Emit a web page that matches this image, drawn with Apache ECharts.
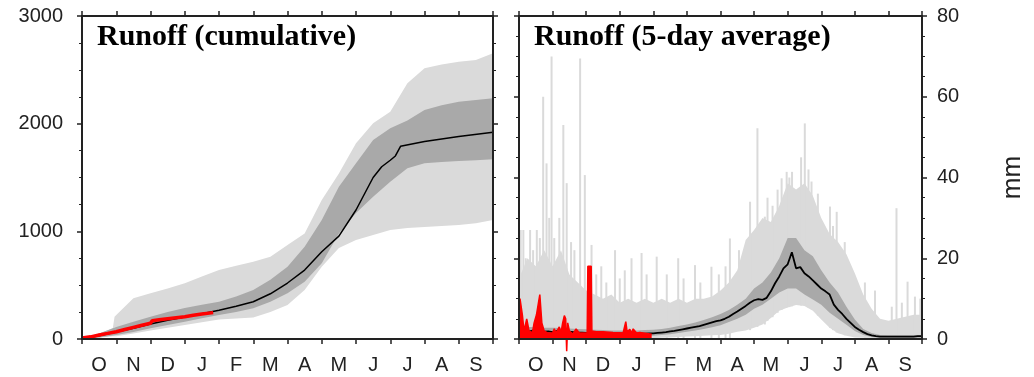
<!DOCTYPE html>
<html>
<head>
<meta charset="utf-8">
<script src="https://cdn.jsdelivr.net/npm/echarts@6/dist/echarts.min.js"></script>
<style>
    html, body { margin: 0; padding: 0; background: #fff; }
    #chart { width: 1034px; height: 377px; }
</style>
</head>
<body>
<div id="chart"></div>
<script>
// water year, Oct .. Sep; x is in months from 1 Oct
const months = ['O', 'N', 'D', 'J', 'F', 'M', 'A', 'M', 'J', 'J', 'A', 'S'];
const monthTicks = [0, 1, 2, 3, 4, 5, 6, 7, 8, 9, 10, 11, 12];
const monthLabelPos = [0.5, 1.5, 2.5, 3.5, 4.5, 5.5, 6.5, 7.5, 8.5, 9.5, 10.5, 11.5];

// ---- left panel: cumulative runoff
const cumX = [0, 0.5, 0.9, 0.95, 1, 1.5, 2, 2.5, 3, 3.5, 4, 4.5, 5, 5.5, 6, 6.5, 7, 7.5, 8, 8.5, 9, 9.5, 10, 10.5, 11, 11.5, 12];
const cumLightLow = [0, 12, 25, 25, 25, 50, 80, 105, 130, 155, 180, 190, 200, 250, 316, 455, 672, 845, 920, 966, 1012, 1030, 1040, 1050, 1059, 1075, 1105];
const cumLightHigh = [0, 50, 100, 207, 223, 378, 424, 470, 517, 580, 641, 680, 718, 764, 873, 981, 1291, 1538, 1817, 2003, 2111, 2375, 2514, 2550, 2576, 2591, 2653];
const cumDarkLow = [0, 15, 33, 35, 37, 65, 99, 130, 161, 192, 223, 250, 285, 345, 424, 532, 703, 981, 1170, 1322, 1461, 1585, 1632, 1645, 1653, 1660, 1669];
const cumDarkHigh = [0, 50, 100, 105, 111, 160, 207, 250, 287, 318, 346, 395, 455, 550, 672, 857, 1105, 1415, 1632, 1848, 1957, 2030, 2127, 2170, 2204, 2220, 2235];
const cumMedX = [0, 0.5, 1, 1.5, 2, 2.5, 3, 3.5, 4, 4.5, 5, 5.5, 6, 6.5, 7, 7.5, 8, 8.5, 8.75, 9, 9.15, 9.3, 10, 11, 12];
const cumMed = [0, 30, 65, 100, 140, 175, 205, 235, 268, 305, 346, 420, 520, 640, 811, 955, 1198, 1500, 1600, 1660, 1700, 1790, 1835, 1880, 1920];
const cumObsX = [0, 0.25, 0.5, 0.75, 1, 1.25, 1.5, 1.75, 2, 2.05, 2.25, 2.5, 2.75, 3, 3.25, 3.5, 3.83];
const cumObs = [10, 20, 37, 52, 68, 88, 108, 128, 146, 170, 178, 188, 198, 207, 220, 232, 245];

// ---- right panel: 5-day average runoff (mm)
// envelope and quartile band, every quarter month
const rLightLow = [0, 0, 0, 0, 0, 0, 0, 0, 0, 0, 0, 0, 0, 0, 0, 0, 0.2, 0.3, 0.4, 0.5, 0.6, 0.7, 0.8, 0.9, 1, 1.3, 1.8, 2.1, 2.8, 3.6, 5.2, 7, 7.8, 8.4, 8.2, 7, 4.8, 2.8, 1.4, 0.8, 0.4, 0.3, 0.2, 0.2, 0.2, 0.2, 0.2, 0.2, 0.2];
const rLightHigh = [15, 20, 18, 22, 18, 22, 16, 14, 12, 11, 10, 11, 9, 10, 9, 10, 9, 10, 9, 10, 9, 10, 10, 10.5, 12, 14, 17, 24.5, 27, 30, 29, 33, 38.6, 37, 38.6, 35.5, 30, 26, 24, 21, 16.3, 11, 7.5, 5, 4.5, 5, 5.5, 6, 6];
const rDarkLow = [0.8, 0.8, 0.8, 0.8, 0.8, 0.8, 0.8, 0.8, 0.7, 0.7, 0.7, 0.7, 0.7, 0.7, 0.7, 0.7, 0.8, 1.0, 1.2, 1.5, 1.8, 2.1, 2.5, 2.9, 3.4, 4.2, 5, 6, 7.5, 8.5, 10, 11.5, 12.5, 12.5, 11, 9.8, 8.5, 6.5, 5, 3.5, 2, 1, 0.5, 0.3, 0.3, 0.3, 0.3, 0.3, 0.3];
const rDarkHigh = [3, 3, 3, 2.8, 2.8, 2.7, 2.6, 2.5, 2.4, 2.3, 2.2, 2.1, 2.1, 2.1, 2.1, 2.2, 2.3, 2.5, 2.8, 3.2, 3.6, 4.1, 4.7, 5.4, 6.2, 7.2, 8.5, 10, 12.5, 14, 16.5, 20, 25, 25, 22, 20.5, 17, 14, 11.5, 8, 4.8, 2.5, 1.5, 1.0, 0.9, 0.9, 0.9, 0.9, 0.9];
// median, every eighth of a month
const rMed = [
    2.0, 2.2, 1.8, 2.0, 2.3, 1.9, 1.8, 1.9,
    1.7, 2.0, 1.9, 1.8, 1.8, 1.7, 1.6, 1.6,
    1.5, 1.5, 1.5, 1.4, 1.4, 1.4, 1.4, 1.4,
    1.4, 1.3, 1.3, 1.3, 1.3, 1.3, 1.3, 1.4,
    1.4, 1.5, 1.6, 1.7, 1.9, 2.0, 2.2, 2.4,
    2.6, 2.8, 3.0, 3.2, 3.5, 3.8, 4.1, 4.4,
    4.6, 5.0, 5.5, 6.2, 6.8, 7.5, 8.2, 9.0,
    9.6, 9.9, 9.7, 10.2, 11.8, 13.8, 15.5, 17.5,
    18.5, 21.5, 17.5, 17.8, 16.3, 15.5, 14.5, 13.5,
    12.5, 11.8, 11.0, 8.5, 7.2, 6.2, 5.0, 4.0,
    3.0, 2.3, 1.7, 1.2, 0.9, 0.7, 0.6, 0.6,
    0.6, 0.6, 0.6, 0.6, 0.6, 0.6, 0.6, 0.7,
    0.7
];
// single-day maxima that stick out of the envelope (base = envelope bottom)
const rSpikeX = [0.05, 0.13, 0.2, 0.33, 0.42, 0.53, 0.62, 0.72, 0.82, 0.9, 0.97, 1.05, 1.12, 1.2, 1.32, 1.42, 1.55, 1.65, 1.82, 1.96,
    2.16, 2.3, 2.45, 2.6, 2.86, 3.0, 3.15, 3.35, 3.65, 3.8, 4.1, 4.4, 4.74, 4.9, 5.24, 5.4, 5.73, 5.95, 6.15, 6.28,
    6.55, 6.88, 7.1, 7.32, 7.4, 7.55, 7.7, 7.82, 7.97, 8.05, 8.13, 8.4, 8.51, 8.62, 8.71, 8.9, 9.26, 9.35, 9.46, 9.7,
    10.3, 10.6, 11.1, 11.24, 11.4, 11.57, 11.79, 11.95];
const rSpikeH = [27, 27, 20, 27, 22, 27, 25, 60, 43.5, 30, 70, 25, 19, 30, 53, 38.6, 24, 22, 69.5, 40.6,
    23.3, 16, 18, 14, 22, 15, 17, 20, 21.3, 16, 20.4, 16, 20, 15, 18.3, 14, 17.9, 16, 18, 24.9,
    22, 34, 52.2, 30.3, 35, 33, 37, 39.8, 41.4, 40, 41.4, 45, 53.4, 42, 39, 36, 32.8, 28, 31.5, 24,
    14, 12, 8, 32.4, 9, 14.2, 10.5, 10];
const rSpikeBase = [0, 0, 0, 0, 0, 0, 0, 0, 0, 0, 0, 0, 0, 0, 0, 0, 0, 0, 0, 0,
    0, 0, 0, 0, 0, 0, 0, 0, 0, 0, 0, 0, 0, 0, 0, 0, 0, 0, 0, 0,
    2.0, 2.2, 3.0, 3.6, 4.5, 5.4, 6.5, 7.2, 7.8, 7.9, 8.1, 8.3, 8.2, 7.7, 7.4, 5.8, 2.8, 2.2, 1.6, 0.9,
    0, 0, 0, 0, 0, 0, 0, 0];
// this year's observations
const rObsX = [0, 0.03, 0.1, 0.15, 0.23, 0.3, 0.4, 0.45, 0.52, 0.58, 0.62, 0.68, 0.75, 0.85, 1.0, 1.05, 1.1, 1.2, 1.25, 1.3, 1.35, 1.39, 1.42, 1.45, 1.5, 1.6, 1.7, 1.8, 2.03, 2.05, 2.15, 2.17, 2.3, 2.5, 2.8, 3.1, 3.18, 3.22, 3.3, 3.35, 3.4, 3.5, 3.6, 3.95];
const rObs = [4, 10, 6, 2, 5, 2, 1.5, 4, 6, 9, 11, 4, 2, 1.5, 1.5, 2.5, 1.5, 3, 1.5, 4, 5.8, 5, -3, 4, 2, 1.2, 2.5, 1.5, 1.5, 18, 18, 2, 1.8, 1.8, 1.6, 1.5, 4.3, 1.8, 2.4, 1.5, 2.5, 1.5, 1.6, 1.2];

const rX = rLightHigh.map((v, i) => i / 4);
const rMedX = rMed.map((v, i) => i / 8);

const pairs = (xs, ys) => xs.map((x, i) => [x, ys[i]]);

const sans = 'Liberation Sans';
const ink = '#222';
const light = '#dadada';
const dark = '#a9a9a9';

function xAxisFor(grid, pos, labels) {
    return {
        type: 'value', gridIndex: grid, position: pos, min: 0, max: 12, z: 10,
        axisLine: { show: true, onZero: false, lineStyle: { color: ink, width: 2 } },
        axisTick: { show: true, customValues: monthTicks, length: 5, lineStyle: { color: ink, width: 1.5 } },
        axisLabel: labels ? {
            show: true, customValues: monthLabelPos, margin: 16,
            formatter: v => months[Math.floor(v)],
            fontFamily: sans, fontSize: 20, color: ink
        } : { show: false },
        splitLine: { show: false }
    };
}

function yAxisFor(grid, pos, max, interval, labels) {
    return {
        type: 'value', gridIndex: grid, position: pos, min: 0, max: max, interval: interval, z: 10,
        axisLine: { show: true, onZero: false, lineStyle: { color: ink, width: 2 } },
        axisTick: { show: true, length: 5, lineStyle: { color: ink, width: 1.5 } },
        minorTick: { show: true, splitNumber: 4, length: 3, lineStyle: { color: ink, width: 1 } },
        axisLabel: labels ? { show: true, margin: pos == 'left' ? 19 : 15, formatter: v => String(v),
            fontFamily: sans, fontSize: 20, color: ink } : { show: false },
        splitLine: { show: false }
    };
}

// shaded band between lo and hi, drawn once as a polygon through the axis scales
function band(xi, yi, xs, lo, hi, color, z) {
    return {
        type: 'custom', xAxisIndex: xi, yAxisIndex: yi, silent: true, z: z,
        data: xs.map((x, i) => [x, lo[i], hi[i]]),
        encode: { x: 0, y: [1, 2] },
        renderItem: (params, api) => {
            if (params.dataIndex !== 0) return;
            let top = xs.map((x, i) => api.coord([x, hi[i]]));
            let bottom = xs.map((x, i) => api.coord([x, lo[i]])).reverse();
            return { type: 'polygon', shape: { points: top.concat(bottom) }, style: { fill: color } };
        }
    };
}

let chart = echarts.init(document.getElementById('chart'));
let rightMm = yAxisFor(1, 'right', 80, 20, true);
rightMm.name = 'mm';
rightMm.nameLocation = 'middle';
rightMm.nameRotate = 90;
rightMm.nameGap = 78;
rightMm.nameTextStyle = { fontFamily: sans, fontSize: 26, color: ink };

const titleStyle = { fontFamily: 'Liberation Serif', fontWeight: 'bold', fontSize: 30, color: '#000' };

chart.setOption({
    animation: false,
    title: [
        { text: 'Runoff (cumulative)', left: 97, top: 22, padding: 0, textStyle: titleStyle },
        { text: 'Runoff (5-day average)', left: 534, top: 22, padding: 0, textStyle: titleStyle }
    ],
    grid: [
        { left: 82, top: 16, width: 411, height: 323 },
        { left: 519, top: 16, width: 403, height: 323 }
    ],
    xAxis: [
        xAxisFor(0, 'bottom', true), xAxisFor(0, 'top', false),
        xAxisFor(1, 'bottom', true), xAxisFor(1, 'top', false)
    ],
    yAxis: [
        yAxisFor(0, 'left', 3000, 1000, true), yAxisFor(0, 'right', 3000, 1000, false),
        yAxisFor(1, 'left', 80, 20, false), rightMm
    ],
    series: [
        band(0, 0, cumX, cumLightLow, cumLightHigh, light, 1),
        band(0, 0, cumX, cumDarkLow, cumDarkHigh, dark, 2),
        { type: 'line', xAxisIndex: 0, yAxisIndex: 0, z: 3, data: pairs(cumMedX, cumMed),
          showSymbol: false, lineStyle: { color: '#000', width: 1.5 } },
        { type: 'line', xAxisIndex: 0, yAxisIndex: 0, z: 4, data: pairs(cumObsX, cumObs),
          showSymbol: false, lineStyle: { color: '#f00', width: 3.5 } },

        band(2, 2, rX, rLightLow, rLightHigh, light, 1),
        {
            type: 'custom', xAxisIndex: 2, yAxisIndex: 2, z: 1, silent: true,
            data: rSpikeX.map((x, i) => [x, rSpikeBase[i], rSpikeH[i]]),
            encode: { x: 0, y: [1, 2] },
            renderItem: (params, api) => {
                let top = api.coord([api.value(0), api.value(2)]);
                let base = api.coord([api.value(0), api.value(1)]);
                return { type: 'rect', shape: { x: top[0] - 1, y: top[1], width: 2, height: base[1] - top[1] },
                         style: { fill: light } };
            }
        },
        band(2, 2, rX, rDarkLow, rDarkHigh, dark, 2),
        { type: 'line', xAxisIndex: 2, yAxisIndex: 2, z: 3, data: pairs(rMedX, rMed),
          showSymbol: false, lineStyle: { color: '#000', width: 1.8 } },
        { type: 'line', xAxisIndex: 2, yAxisIndex: 2, z: 4, data: pairs(rObsX, rObs), clip: false,
          showSymbol: false, lineStyle: { color: '#f00', width: 1.5 },
          areaStyle: { color: '#f00', opacity: 1 } }
    ]
});
window.addEventListener('resize', () => chart.resize());
</script>
</body>
</html>
